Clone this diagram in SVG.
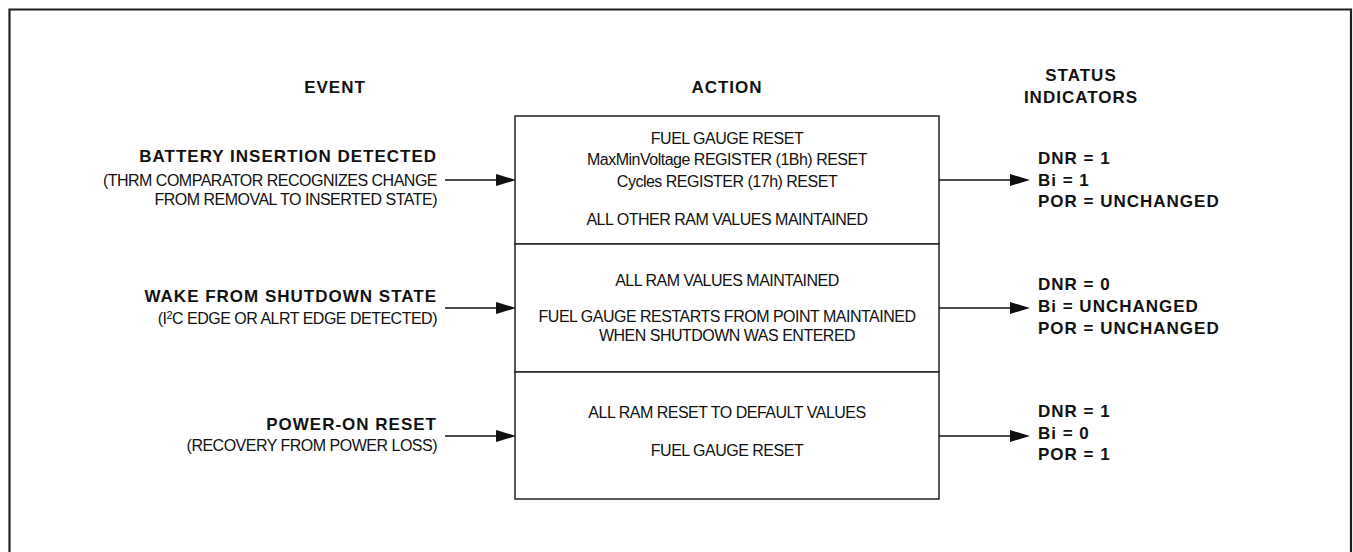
<svg xmlns="http://www.w3.org/2000/svg" width="1353" height="552" viewBox="0 0 1353 552">
<style>
  .hdr { font-family: "Liberation Sans", Arial, sans-serif; font-size: 17px; font-weight: bold; letter-spacing: 1px; fill: #111; }
  .b { font-family: "Liberation Sans", Arial, sans-serif; font-size: 17px; font-weight: bold; letter-spacing: 1px; fill: #111; }
  .r { font-family: "Liberation Sans", Arial, sans-serif; font-size: 16px; letter-spacing: -0.5px; fill: #111; }
  .sup { font-size: 11px; }
  .cell { fill: #fff; stroke: #222; stroke-width: 1.5; }
  .conn { stroke: #111; stroke-width: 1.5; fill: none; marker-end: url(#arrow); }
  .frame { fill: none; stroke: #231f20; stroke-width: 2.2; }
</style>
<defs>
  <marker id="arrow" markerUnits="userSpaceOnUse" markerWidth="20" markerHeight="12" refX="10" refY="6" orient="auto">
    <path d="M0,0 L20,6 L0,12 Z" fill="#111"/>
  </marker>
</defs>
<rect width="1353" height="552" fill="#fff"/>
<path class="frame" d="M9.5,552 V9.5 H1351 V552"/>

<g id="headers">
  <text class="hdr" x="335" y="93" text-anchor="middle">EVENT</text>
  <text class="hdr" x="727" y="93" text-anchor="middle">ACTION</text>
  <text class="hdr" x="1081" y="81" text-anchor="middle">STATUS</text>
  <text class="hdr" x="1081" y="103" text-anchor="middle">INDICATORS</text>
</g>

<g id="event-battery">
  <text class="b" x="437" y="162" text-anchor="end">BATTERY INSERTION DETECTED</text>
  <text class="r" x="437" y="186" text-anchor="end">(THRM COMPARATOR RECOGNIZES CHANGE</text>
  <text class="r" x="437" y="205" text-anchor="end">FROM REMOVAL TO INSERTED STATE)</text>
</g>
<g id="event-wake">
  <text class="b" x="437" y="302" text-anchor="end">WAKE FROM SHUTDOWN STATE</text>
  <text class="r" x="437" y="324" text-anchor="end">(I<tspan class="sup" dy="-5">2</tspan><tspan dy="5">C EDGE OR ALRT EDGE DETECTED)</tspan></text>
</g>
<g id="event-por">
  <text class="b" x="437" y="430" text-anchor="end">POWER-ON RESET</text>
  <text class="r" x="437" y="451" text-anchor="end">(RECOVERY FROM POWER LOSS)</text>
</g>

<g id="action-battery">
  <rect class="cell" x="515" y="116" width="424" height="128"/>
  <text class="r" x="727" y="144" text-anchor="middle">FUEL GAUGE RESET</text>
  <text class="r" x="727" y="165" text-anchor="middle">MaxMinVoltage REGISTER (1Bh) RESET</text>
  <text class="r" x="727" y="187" text-anchor="middle">Cycles REGISTER (17h) RESET</text>
  <text class="r" x="727" y="225" text-anchor="middle">ALL OTHER RAM VALUES MAINTAINED</text>
</g>
<g id="action-wake">
  <rect class="cell" x="515" y="244" width="424" height="128"/>
  <text class="r" x="727" y="286" text-anchor="middle">ALL RAM VALUES MAINTAINED</text>
  <text class="r" x="727" y="322" text-anchor="middle">FUEL GAUGE RESTARTS FROM POINT MAINTAINED</text>
  <text class="r" x="727" y="341" text-anchor="middle">WHEN SHUTDOWN WAS ENTERED</text>
</g>
<g id="action-por">
  <rect class="cell" x="515" y="372" width="424" height="127"/>
  <text class="r" x="727" y="418" text-anchor="middle">ALL RAM RESET TO DEFAULT VALUES</text>
  <text class="r" x="727" y="456" text-anchor="middle">FUEL GAUGE RESET</text>
</g>

<g id="status-battery">
  <text class="b" x="1038" y="164">DNR = 1</text>
  <text class="b" x="1038" y="186">Bi = 1</text>
  <text class="b" x="1038" y="207">POR = UNCHANGED</text>
</g>
<g id="status-wake">
  <text class="b" x="1038" y="290">DNR = 0</text>
  <text class="b" x="1038" y="312">Bi = UNCHANGED</text>
  <text class="b" x="1038" y="334">POR = UNCHANGED</text>
</g>
<g id="status-por">
  <text class="b" x="1038" y="417">DNR = 1</text>
  <text class="b" x="1038" y="439">Bi = 0</text>
  <text class="b" x="1038" y="460">POR = 1</text>
</g>

<g id="connectors">
  <line class="conn" x1="445" y1="180" x2="506" y2="180"/>
  <line class="conn" x1="445" y1="308" x2="506" y2="308"/>
  <line class="conn" x1="445" y1="436" x2="506" y2="436"/>
  <line class="conn" x1="939" y1="180" x2="1020" y2="180"/>
  <line class="conn" x1="939" y1="308" x2="1020" y2="308"/>
  <line class="conn" x1="939" y1="436" x2="1020" y2="436"/>
</g>
</svg>
